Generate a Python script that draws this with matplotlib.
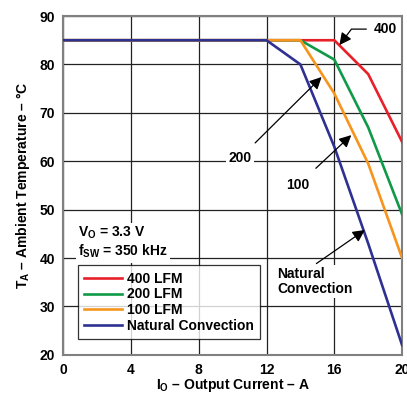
import matplotlib
matplotlib.use("Agg")
import matplotlib.pyplot as plt

plt.rcParams['font.family'] = ['Liberation Sans', 'DejaVu Sans']
plt.rcParams['font.weight'] = 'bold'
plt.rcParams['mathtext.fontset'] = 'custom'
plt.rcParams['mathtext.rm'] = 'Liberation Sans:bold'
plt.rcParams['mathtext.it'] = 'Liberation Sans:bold'
plt.rcParams['mathtext.bf'] = 'Liberation Sans:bold'

# Data
current = [0, 12, 14, 16, 18, 20]
lfm400 = [85, 85, 85, 85, 78, 64]
lfm200 = [85, 85, 85, 81, 67, 49]
lfm100 = [85, 85, 85, 74, 59.5, 40]
natural = [85, 85, 80, 63, 43, 22]
series_labels = ['400 LFM', '200 LFM', '100 LFM', 'Natural Convection']
colors = ['#E8202A', '#109A48', '#F7941D', '#2E3192']
x_ticks = [0, 4, 8, 12, 16, 20]
y_ticks = [20, 30, 40, 50, 60, 70, 80, 90]

fig = plt.figure(figsize=(4.07, 4.01), dpi=100)
ax = fig.add_axes([0.155, 0.115, 0.833, 0.845])

fs = 10
for ys, lab, c in zip([lfm400, lfm200, lfm100, natural], series_labels, colors):
    ax.plot(current, ys, color=c, lw=1.9, label=lab, zorder=3, solid_joinstyle='miter')

ax.set_xlim(0, 20)
ax.set_ylim(20, 90)
ax.set_xticks(x_ticks)
ax.set_yticks(y_ticks)
ax.tick_params(length=0, labelsize=fs, pad=6)
for lbl in ax.get_xticklabels() + ax.get_yticklabels():
    lbl.set_fontweight('bold')
ax.grid(True, color='#222222', lw=0.9, zorder=1)
for s in ax.spines.values():
    s.set_color('#808080')
    s.set_linewidth(1.5)

ax.set_xlabel('$I_O$ – Output Current – A', fontsize=fs, fontweight='bold', labelpad=0)
ax.set_ylabel('$T_A$ – Ambient Temperature – °C', fontsize=fs, fontweight='bold', labelpad=5)

wb = dict(facecolor='white', edgecolor='none', pad=1.5)
ax.text(0.88, 45.2, '$V_O$ = 3.3 V', fontsize=fs, fontweight='bold', va='center', ha='left', bbox=wb, zorder=4)
ax.text(0.88, 41.3, '$f_{SW}$ = 350 kHz', fontsize=fs, fontweight='bold', va='center', ha='left', bbox=wb, zorder=4)

arrow = dict(arrowstyle='-|>', color='black', lw=0.9, mutation_scale=18, shrinkA=0, shrinkB=0)
ax.annotate('400', xy=(16.3, 84), xytext=(18.3, 87.3), fontsize=fs, fontweight='bold',
            ha='left', va='center', zorder=5,
            arrowprops=dict(arrow, connectionstyle='angle,angleA=0,angleB=53,rad=0', shrinkA=3))
ax.annotate('200', xy=(15.25, 77.4), xytext=(10.44, 60.7), fontsize=fs, fontweight='bold',
            ha='center', va='center', zorder=5, bbox=wb,
            arrowprops=dict(arrow, shrinkA=6))
ax.annotate('100', xy=(17.0, 65.4), xytext=(13.86, 55.1), fontsize=fs, fontweight='bold',
            ha='center', va='center', zorder=5, bbox=wb,
            arrowprops=dict(arrow, shrinkA=8))
ax.annotate('Natural\nConvection', xy=(17.8, 45.8), xytext=(12.63, 35.1), fontsize=fs, fontweight='bold',
            ha='left', va='center', zorder=5, bbox=wb, linespacing=1.1,
            arrowprops=dict(arrow, relpos=(0.45, 1.0), shrinkA=2))

leg = ax.legend(loc='lower left', bbox_to_anchor=(0.044, 0.047), borderaxespad=0,
                fontsize=fs, frameon=True, fancybox=False, handlelength=2.7,
                labelspacing=0.12, handletextpad=0.4, borderpad=0.45)
leg.get_frame().set_edgecolor('black')
leg.get_frame().set_linewidth(0.9)
leg.set_zorder(6)
for t in leg.get_texts():
    t.set_fontweight('bold')

fig.savefig('out.png', dpi=100)
